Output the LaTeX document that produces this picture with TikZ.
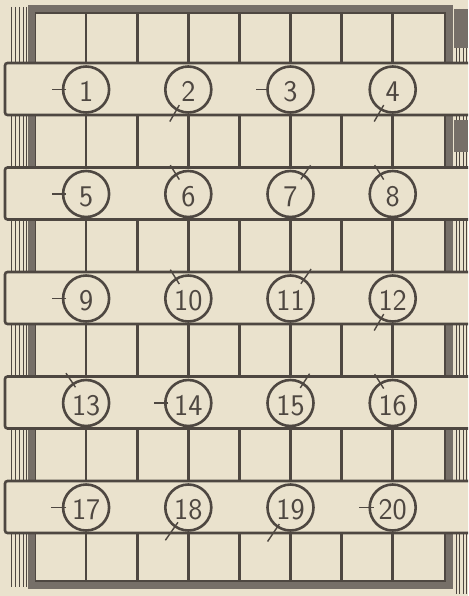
\documentclass[tikz,border=0pt]{standalone}
\usepackage{fontspec}
\definecolor{paper}{RGB}{234,226,205}
\definecolor{ink}{RGB}{78,71,65}
\definecolor{frameg}{RGB}{118,111,104}
\begin{document}
\begin{tikzpicture}[x=1pt,y=-1pt,
  gridline/.style={ink, line width=2.6pt},
  band/.style={fill=paper, draw=ink, line width=2.6pt, rounded corners=2.5pt},
  knob/.style={circle, draw=ink, line width=2.6pt, minimum size=46pt, inner sep=0pt,
    text height=24pt, text depth=0pt,
    font=\fontsize{30}{30}\selectfont\sffamily, text=ink},
  hand/.style={ink, line width=1.4pt},
  hatch/.style={ink, line width=0.8pt},
  rim/.style={frameg, line width=8pt}]
\useasboundingbox (0,0) rectangle (468,596);
\clip (0,0) rectangle (468,596);
\fill[paper] (0,0) rectangle (468,596);
% hatching outside the frame
\foreach \a/\b in {7/63, 115/167.5, 219.5/272, 324/376.5, 428.5/481, 533/587} {
  \foreach \x in {11,15,19,23,26} \draw[hatch] (\x,\a) -- (\x,\b);
}
\foreach \a/\b in {9/63, 115/167.5, 219.5/272, 324/376.5, 428.5/481, 533/594} {
  \foreach \x in {456,459.5,463,466.5} \draw[hatch] (\x,\a) -- (\x,\b);
}
\fill[frameg] (454,9) rectangle (468,48);
\fill[frameg] (454,120) rectangle (468,152);
% frame
\draw[rim] (31.5,9) rectangle (449,585);
\draw[ink, line width=1.2pt] (35.5,13) rectangle (445,581);
% vertical grid lines in the cell rows
\foreach \a/\b in {13/63, 115/167.5, 219.5/272, 324/376.5, 428.5/481, 533/581} {
  \foreach \i in {1,...,7} \draw[gridline] ({35+51.1*\i},\a) -- ({35+51.1*\i},\b);
}
% bands
\foreach \t in {63,167.5,272,376.5,481} \draw[band] (5,\t) rectangle (490,{\t+52});
% knobs
\foreach \r in {0,...,4} {
  \foreach \c in {0,...,3} {
    \pgfmathtruncatemacro\n{4*\r+\c+1}
    \node[knob] (k\n) at ({86.1+102.2*\c},{89.5+104.5*\r}) {\n};
  }
}
% hands
\foreach \n/\a/\r/\R in {1/180/20pt/34pt, 2/240/18pt/37pt, 3/180/22pt/35pt, 4/240/18pt/37pt,
  5/180/20pt/34pt, 6/122/17pt/34pt, 7/55/18pt/35pt, 8/122/17pt/34pt,
  9/180/20pt/34pt, 10/122/17pt/34pt, 11/55/18pt/36pt, 12/240/18pt/37pt,
  13/124/19pt/36pt, 14/180/20pt/34pt, 15/57/18pt/35pt, 16/122/17pt/34pt,
  17/180/20pt/35pt, 18/235/18pt/40pt, 19/236/20pt/41pt, 20/180/19pt/34pt} {
  \draw[hand] ([shift={(\a:\r)}]k\n.center) -- ([shift={(\a:\R)}]k\n.center);
}
\end{tikzpicture}
\end{document}
